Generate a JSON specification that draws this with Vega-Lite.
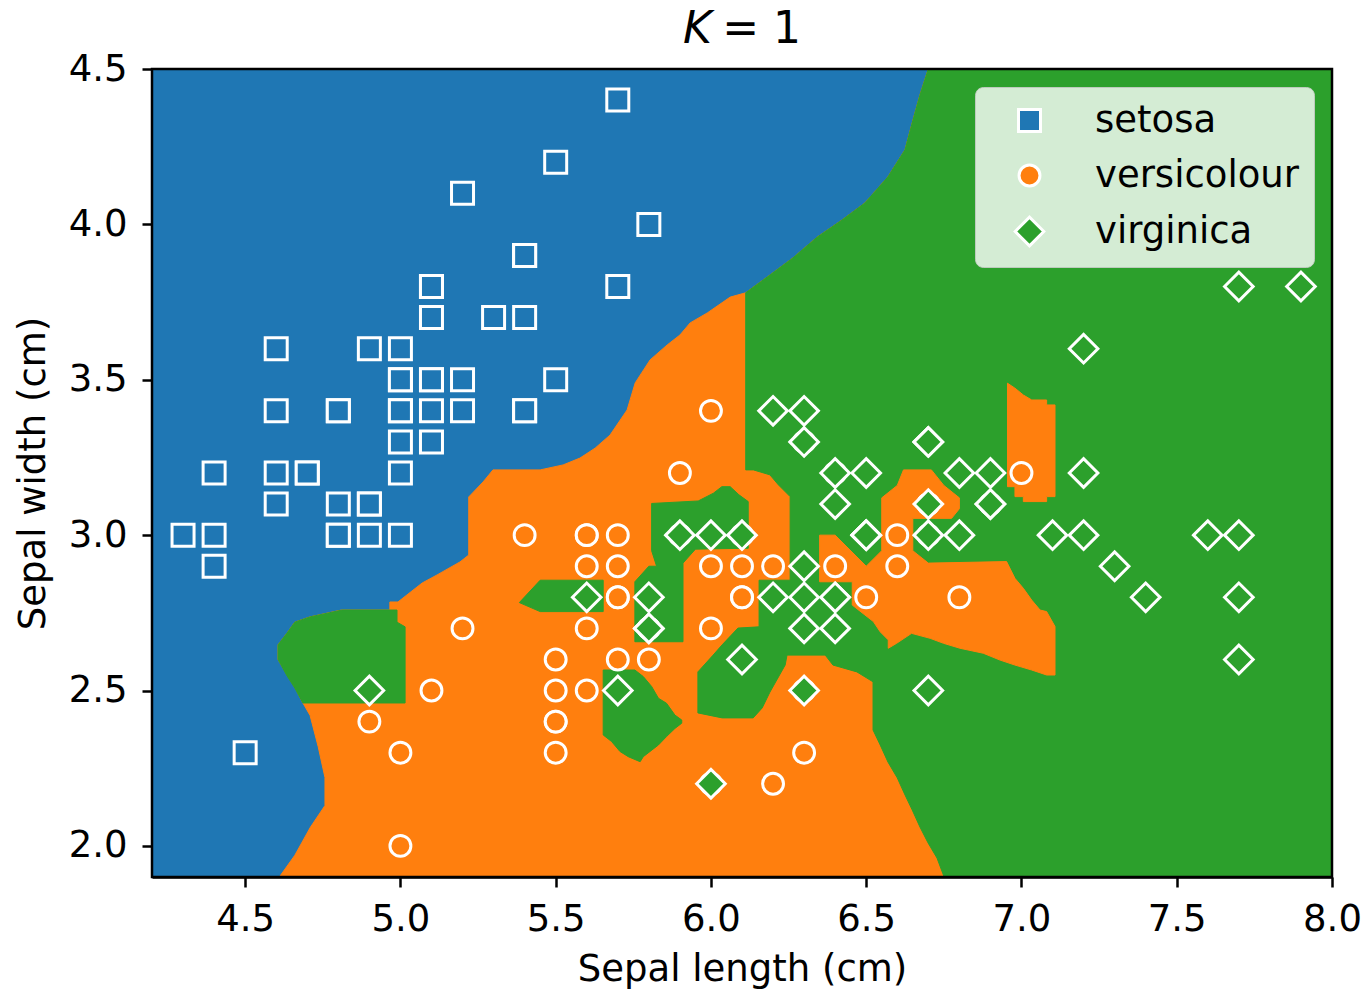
{
  "$schema": "https://vega.github.io/schema/vega-lite/v6.json",
  "width": 1180,
  "height": 808,
  "autosize": {"type": "none"},
  "padding": {"left": 152, "top": 69, "right": 36, "bottom": 114},
  "background": "white",
  "config": {
    "view": {"stroke": null},
    "axis": {"labelFontSize": 37, "titleFontSize": 37, "labelFont": "DejaVu Sans", "titleFont": "DejaVu Sans", "titleFontWeight": "normal", "labelColor": "black", "titleColor": "black", "domainColor": "black", "domainWidth": 2.5, "tickColor": "black", "tickWidth": 2.5, "tickSize": 10, "grid": false, "zindex": 1, "labelFlush": false, "labelOverlap": false}
  },
  "datasets": {
    "regions": [
      {"p":"bg","z":1,"i":0,"x":4.2,"y":1.9},{"p":"bg","z":1,"i":1,"x":8.0,"y":1.9},{"p":"bg","z":1,"i":2,"x":8.0,"y":4.5},{"p":"bg","z":1,"i":3,"x":4.2,"y":4.5},

      {"p":"nb","z":2,"i":0,"x":4.61,"y":1.9},{"p":"nb","z":2,"i":1,"x":4.66,"y":1.97},{"p":"nb","z":2,"i":2,"x":4.71,"y":2.06},{"p":"nb","z":2,"i":3,"x":4.757,"y":2.13},{"p":"nb","z":2,"i":4,"x":4.757,"y":2.22},{"p":"nb","z":2,"i":5,"x":4.735,"y":2.32},{"p":"nb","z":2,"i":6,"x":4.709,"y":2.42},{"p":"nb","z":2,"i":7,"x":4.686,"y":2.46},{"p":"nb","z":2,"i":8,"x":4.66,"y":2.51},{"p":"nb","z":2,"i":9,"x":4.635,"y":2.55},{"p":"nb","z":2,"i":10,"x":4.606,"y":2.6},{"p":"nb","z":2,"i":11,"x":4.606,"y":2.647},{"p":"nb","z":2,"i":12,"x":4.635,"y":2.685},{"p":"nb","z":2,"i":13,"x":4.66,"y":2.72},{"p":"nb","z":2,"i":14,"x":4.709,"y":2.737},{"p":"nb","z":2,"i":15,"x":4.81,"y":2.759},{"p":"nb","z":2,"i":16,"x":4.966,"y":2.759},{"p":"nb","z":2,"i":17,"x":4.966,"y":2.785},{"p":"nb","z":2,"i":18,"x":4.992,"y":2.785},{"p":"nb","z":2,"i":19,"x":5.07,"y":2.846},{"p":"nb","z":2,"i":20,"x":5.118,"y":2.872},{"p":"nb","z":2,"i":21,"x":5.192,"y":2.914},{"p":"nb","z":2,"i":22,"x":5.22,"y":2.936},{"p":"nb","z":2,"i":23,"x":5.22,"y":3.123},{"p":"nb","z":2,"i":24,"x":5.266,"y":3.171},{"p":"nb","z":2,"i":25,"x":5.298,"y":3.21},{"p":"nb","z":2,"i":26,"x":5.45,"y":3.21},{"p":"nb","z":2,"i":27,"x":5.524,"y":3.226},{"p":"nb","z":2,"i":28,"x":5.578,"y":3.248},{"p":"nb","z":2,"i":29,"x":5.627,"y":3.28},{"p":"nb","z":2,"i":30,"x":5.675,"y":3.322},{"p":"nb","z":2,"i":31,"x":5.73,"y":3.403},{"p":"nb","z":2,"i":32,"x":5.756,"y":3.49},{"p":"nb","z":2,"i":33,"x":5.804,"y":3.564},{"p":"nb","z":2,"i":34,"x":5.859,"y":3.612},{"p":"nb","z":2,"i":35,"x":5.9,"y":3.644},{"p":"nb","z":2,"i":36,"x":5.933,"y":3.683},{"p":"nb","z":2,"i":37,"x":5.988,"y":3.715},{"p":"nb","z":2,"i":38,"x":6.062,"y":3.766},{"p":"nb","z":2,"i":39,"x":6.112,"y":3.78},{"p":"nb","z":2,"i":40,"x":6.19,"y":3.837},{"p":"nb","z":2,"i":41,"x":6.264,"y":3.892},{"p":"nb","z":2,"i":42,"x":6.342,"y":3.959},{"p":"nb","z":2,"i":43,"x":6.422,"y":4.014},{"p":"nb","z":2,"i":44,"x":6.496,"y":4.069},{"p":"nb","z":2,"i":45,"x":6.57,"y":4.153},{"p":"nb","z":2,"i":46,"x":6.625,"y":4.24},{"p":"nb","z":2,"i":47,"x":6.648,"y":4.326},{"p":"nb","z":2,"i":48,"x":6.673,"y":4.416},{"p":"nb","z":2,"i":49,"x":6.7,"y":4.5},{"p":"nb","z":2,"i":50,"x":8.0,"y":4.5},{"p":"nb","z":2,"i":51,"x":8.0,"y":1.9},

      {"p":"g1","z":3,"i":0,"x":6.112,"y":3.78},{"p":"g1","z":3,"i":1,"x":6.19,"y":3.837},{"p":"g1","z":3,"i":2,"x":6.264,"y":3.892},{"p":"g1","z":3,"i":3,"x":6.342,"y":3.959},{"p":"g1","z":3,"i":4,"x":6.422,"y":4.014},{"p":"g1","z":3,"i":5,"x":6.496,"y":4.069},{"p":"g1","z":3,"i":6,"x":6.57,"y":4.153},{"p":"g1","z":3,"i":7,"x":6.625,"y":4.24},{"p":"g1","z":3,"i":8,"x":6.648,"y":4.326},{"p":"g1","z":3,"i":9,"x":6.673,"y":4.416},{"p":"g1","z":3,"i":10,"x":6.7,"y":4.5},{"p":"g1","z":3,"i":11,"x":8.0,"y":4.5},{"p":"g1","z":3,"i":12,"x":8.0,"y":1.9},{"p":"g1","z":3,"i":13,"x":6.751,"y":1.9},{"p":"g1","z":3,"i":14,"x":6.728,"y":1.961},{"p":"g1","z":3,"i":15,"x":6.699,"y":2.01},{"p":"g1","z":3,"i":16,"x":6.673,"y":2.061},{"p":"g1","z":3,"i":17,"x":6.648,"y":2.116},{"p":"g1","z":3,"i":18,"x":6.625,"y":2.164},{"p":"g1","z":3,"i":19,"x":6.6,"y":2.219},{"p":"g1","z":3,"i":20,"x":6.57,"y":2.27},{"p":"g1","z":3,"i":21,"x":6.545,"y":2.325},{"p":"g1","z":3,"i":22,"x":6.522,"y":2.373},{"p":"g1","z":3,"i":23,"x":6.522,"y":2.528},{"p":"g1","z":3,"i":24,"x":6.47,"y":2.56},{"p":"g1","z":3,"i":25,"x":6.393,"y":2.582},{"p":"g1","z":3,"i":26,"x":6.368,"y":2.614},{"p":"g1","z":3,"i":27,"x":6.245,"y":2.614},{"p":"g1","z":3,"i":28,"x":6.239,"y":2.582},{"p":"g1","z":3,"i":29,"x":6.19,"y":2.495},{"p":"g1","z":3,"i":30,"x":6.165,"y":2.444},{"p":"g1","z":3,"i":31,"x":6.136,"y":2.412},{"p":"g1","z":3,"i":32,"x":6.036,"y":2.412},{"p":"g1","z":3,"i":33,"x":5.958,"y":2.428},{"p":"g1","z":3,"i":34,"x":5.958,"y":2.56},{"p":"g1","z":3,"i":35,"x":6.007,"y":2.614},{"p":"g1","z":3,"i":36,"x":6.036,"y":2.647},{"p":"g1","z":3,"i":37,"x":6.087,"y":2.701},{"p":"g1","z":3,"i":38,"x":6.155,"y":2.705},{"p":"g1","z":3,"i":39,"x":6.155,"y":2.855},{"p":"g1","z":3,"i":40,"x":6.255,"y":2.855},{"p":"g1","z":3,"i":41,"x":6.255,"y":3.124},{"p":"g1","z":3,"i":42,"x":6.217,"y":3.162},{"p":"g1","z":3,"i":43,"x":6.19,"y":3.194},{"p":"g1","z":3,"i":44,"x":6.137,"y":3.21},{"p":"g1","z":3,"i":45,"x":6.112,"y":3.21},

      {"p":"E","z":4,"i":0,"x":6.35,"y":3.0},{"p":"E","z":4,"i":1,"x":6.4,"y":3.0},{"p":"E","z":4,"i":2,"x":6.5,"y":2.9},{"p":"E","z":4,"i":3,"x":6.55,"y":2.95},{"p":"E","z":4,"i":4,"x":6.55,"y":3.12},{"p":"E","z":4,"i":5,"x":6.6,"y":3.16},{"p":"E","z":4,"i":6,"x":6.62,"y":3.21},{"p":"E","z":4,"i":7,"x":6.71,"y":3.21},{"p":"E","z":4,"i":8,"x":6.75,"y":3.16},{"p":"E","z":4,"i":9,"x":6.8,"y":3.12},{"p":"E","z":4,"i":10,"x":6.8,"y":3.085},{"p":"E","z":4,"i":11,"x":6.775,"y":3.054},{"p":"E","z":4,"i":12,"x":6.65,"y":3.054},{"p":"E","z":4,"i":13,"x":6.65,"y":2.95},{"p":"E","z":4,"i":14,"x":6.7,"y":2.91},{"p":"E","z":4,"i":15,"x":6.952,"y":2.915},{"p":"E","z":4,"i":16,"x":6.979,"y":2.861},{"p":"E","z":4,"i":17,"x":7.006,"y":2.829},{"p":"E","z":4,"i":18,"x":7.033,"y":2.791},{"p":"E","z":4,"i":19,"x":7.06,"y":2.759},{"p":"E","z":4,"i":20,"x":7.081,"y":2.754},{"p":"E","z":4,"i":21,"x":7.108,"y":2.706},{"p":"E","z":4,"i":22,"x":7.108,"y":2.55},{"p":"E","z":4,"i":23,"x":7.081,"y":2.55},{"p":"E","z":4,"i":24,"x":7.033,"y":2.566},{"p":"E","z":4,"i":25,"x":6.979,"y":2.582},{"p":"E","z":4,"i":26,"x":6.931,"y":2.598},{"p":"E","z":4,"i":27,"x":6.877,"y":2.62},{"p":"E","z":4,"i":28,"x":6.802,"y":2.636},{"p":"E","z":4,"i":29,"x":6.749,"y":2.652},{"p":"E","z":4,"i":30,"x":6.706,"y":2.668},{"p":"E","z":4,"i":31,"x":6.646,"y":2.684},{"p":"E","z":4,"i":32,"x":6.598,"y":2.652},{"p":"E","z":4,"i":33,"x":6.571,"y":2.636},{"p":"E","z":4,"i":34,"x":6.571,"y":2.663},{"p":"E","z":4,"i":35,"x":6.545,"y":2.689},{"p":"E","z":4,"i":36,"x":6.523,"y":2.722},{"p":"E","z":4,"i":37,"x":6.496,"y":2.743},{"p":"E","z":4,"i":38,"x":6.455,"y":2.775},{"p":"E","z":4,"i":39,"x":6.455,"y":2.85},{"p":"E","z":4,"i":40,"x":6.35,"y":2.85},

      {"p":"F","z":4,"i":0,"x":6.955,"y":3.489},{"p":"F","z":4,"i":1,"x":6.979,"y":3.473},{"p":"F","z":4,"i":2,"x":7.006,"y":3.451},{"p":"F","z":4,"i":3,"x":7.033,"y":3.435},{"p":"F","z":4,"i":4,"x":7.081,"y":3.435},{"p":"F","z":4,"i":5,"x":7.081,"y":3.419},{"p":"F","z":4,"i":6,"x":7.108,"y":3.419},{"p":"F","z":4,"i":7,"x":7.108,"y":3.124},{"p":"F","z":4,"i":8,"x":7.081,"y":3.124},{"p":"F","z":4,"i":9,"x":7.081,"y":3.108},{"p":"F","z":4,"i":10,"x":7.006,"y":3.108},{"p":"F","z":4,"i":11,"x":7.006,"y":3.124},{"p":"F","z":4,"i":12,"x":6.979,"y":3.124},{"p":"F","z":4,"i":13,"x":6.979,"y":3.156},{"p":"F","z":4,"i":14,"x":6.955,"y":3.156},

      {"p":"I1","z":5,"i":0,"x":4.686,"y":2.46},{"p":"I1","z":5,"i":1,"x":4.66,"y":2.508},{"p":"I1","z":5,"i":2,"x":4.635,"y":2.547},{"p":"I1","z":5,"i":3,"x":4.606,"y":2.6},{"p":"I1","z":5,"i":4,"x":4.606,"y":2.647},{"p":"I1","z":5,"i":5,"x":4.635,"y":2.685},{"p":"I1","z":5,"i":6,"x":4.66,"y":2.72},{"p":"I1","z":5,"i":7,"x":4.709,"y":2.737},{"p":"I1","z":5,"i":8,"x":4.812,"y":2.759},{"p":"I1","z":5,"i":9,"x":4.989,"y":2.759},{"p":"I1","z":5,"i":10,"x":4.989,"y":2.72},{"p":"I1","z":5,"i":11,"x":5.015,"y":2.705},{"p":"I1","z":5,"i":12,"x":5.015,"y":2.46},

      {"p":"I2","z":5,"i":0,"x":5.653,"y":2.566},{"p":"I2","z":5,"i":1,"x":5.755,"y":2.566},{"p":"I2","z":5,"i":2,"x":5.782,"y":2.545},{"p":"I2","z":5,"i":3,"x":5.809,"y":2.513},{"p":"I2","z":5,"i":4,"x":5.831,"y":2.475},{"p":"I2","z":5,"i":5,"x":5.857,"y":2.459},{"p":"I2","z":5,"i":6,"x":5.884,"y":2.421},{"p":"I2","z":5,"i":7,"x":5.906,"y":2.405},{"p":"I2","z":5,"i":8,"x":5.906,"y":2.395},{"p":"I2","z":5,"i":9,"x":5.884,"y":2.378},{"p":"I2","z":5,"i":10,"x":5.857,"y":2.352},{"p":"I2","z":5,"i":11,"x":5.831,"y":2.325},{"p":"I2","z":5,"i":12,"x":5.782,"y":2.287},{"p":"I2","z":5,"i":13,"x":5.772,"y":2.271},{"p":"I2","z":5,"i":14,"x":5.734,"y":2.287},{"p":"I2","z":5,"i":15,"x":5.707,"y":2.304},{"p":"I2","z":5,"i":16,"x":5.68,"y":2.336},{"p":"I2","z":5,"i":17,"x":5.653,"y":2.357},

      {"p":"I3","z":5,"i":0,"x":5.809,"y":3.102},{"p":"I3","z":5,"i":1,"x":5.959,"y":3.11},{"p":"I3","z":5,"i":2,"x":6.008,"y":3.135},{"p":"I3","z":5,"i":3,"x":6.035,"y":3.156},{"p":"I3","z":5,"i":4,"x":6.062,"y":3.156},{"p":"I3","z":5,"i":5,"x":6.09,"y":3.13},{"p":"I3","z":5,"i":6,"x":6.12,"y":3.108},{"p":"I3","z":5,"i":7,"x":6.12,"y":2.958},{"p":"I3","z":5,"i":8,"x":5.95,"y":2.955},{"p":"I3","z":5,"i":9,"x":5.91,"y":2.91},{"p":"I3","z":5,"i":10,"x":5.91,"y":2.657},{"p":"I3","z":5,"i":11,"x":5.755,"y":2.657},{"p":"I3","z":5,"i":12,"x":5.755,"y":2.85},{"p":"I3","z":5,"i":13,"x":5.8,"y":2.9},{"p":"I3","z":5,"i":14,"x":5.825,"y":2.9},{"p":"I3","z":5,"i":15,"x":5.809,"y":2.95},

      {"p":"I4","z":5,"i":0,"x":5.383,"y":2.783},{"p":"I4","z":5,"i":1,"x":5.45,"y":2.855},{"p":"I4","z":5,"i":2,"x":5.653,"y":2.855},{"p":"I4","z":5,"i":3,"x":5.653,"y":2.754},{"p":"I4","z":5,"i":4,"x":5.45,"y":2.754}
    ],
    "iris": [
      {"x":5.1,"y":3.5,"s":"setosa"},{"x":4.9,"y":3.0,"s":"setosa"},{"x":4.7,"y":3.2,"s":"setosa"},{"x":4.6,"y":3.1,"s":"setosa"},{"x":5.0,"y":3.6,"s":"setosa"},{"x":5.4,"y":3.9,"s":"setosa"},{"x":4.6,"y":3.4,"s":"setosa"},{"x":5.0,"y":3.4,"s":"setosa"},{"x":4.4,"y":2.9,"s":"setosa"},{"x":4.9,"y":3.1,"s":"setosa"},
      {"x":5.4,"y":3.7,"s":"setosa"},{"x":4.8,"y":3.4,"s":"setosa"},{"x":4.8,"y":3.0,"s":"setosa"},{"x":4.3,"y":3.0,"s":"setosa"},{"x":5.8,"y":4.0,"s":"setosa"},{"x":5.7,"y":4.4,"s":"setosa"},{"x":5.4,"y":3.9,"s":"setosa"},{"x":5.1,"y":3.5,"s":"setosa"},{"x":5.7,"y":3.8,"s":"setosa"},{"x":5.1,"y":3.8,"s":"setosa"},
      {"x":5.4,"y":3.4,"s":"setosa"},{"x":5.1,"y":3.7,"s":"setosa"},{"x":4.6,"y":3.6,"s":"setosa"},{"x":5.1,"y":3.3,"s":"setosa"},{"x":4.8,"y":3.4,"s":"setosa"},{"x":5.0,"y":3.0,"s":"setosa"},{"x":5.0,"y":3.4,"s":"setosa"},{"x":5.2,"y":3.5,"s":"setosa"},{"x":5.2,"y":3.4,"s":"setosa"},{"x":4.7,"y":3.2,"s":"setosa"},
      {"x":4.8,"y":3.1,"s":"setosa"},{"x":5.4,"y":3.4,"s":"setosa"},{"x":5.2,"y":4.1,"s":"setosa"},{"x":5.5,"y":4.2,"s":"setosa"},{"x":4.9,"y":3.1,"s":"setosa"},{"x":5.0,"y":3.2,"s":"setosa"},{"x":5.5,"y":3.5,"s":"setosa"},{"x":4.9,"y":3.6,"s":"setosa"},{"x":4.4,"y":3.0,"s":"setosa"},{"x":5.1,"y":3.4,"s":"setosa"},
      {"x":5.0,"y":3.5,"s":"setosa"},{"x":4.5,"y":2.3,"s":"setosa"},{"x":4.4,"y":3.2,"s":"setosa"},{"x":5.0,"y":3.5,"s":"setosa"},{"x":5.1,"y":3.8,"s":"setosa"},{"x":4.8,"y":3.0,"s":"setosa"},{"x":5.1,"y":3.8,"s":"setosa"},{"x":4.6,"y":3.2,"s":"setosa"},{"x":5.3,"y":3.7,"s":"setosa"},{"x":5.0,"y":3.3,"s":"setosa"},
      {"x":7.0,"y":3.2,"s":"versicolour"},{"x":6.4,"y":3.2,"s":"versicolour"},{"x":6.9,"y":3.1,"s":"versicolour"},{"x":5.5,"y":2.3,"s":"versicolour"},{"x":6.5,"y":2.8,"s":"versicolour"},{"x":5.7,"y":2.8,"s":"versicolour"},{"x":6.3,"y":3.3,"s":"versicolour"},{"x":4.9,"y":2.4,"s":"versicolour"},{"x":6.6,"y":2.9,"s":"versicolour"},{"x":5.2,"y":2.7,"s":"versicolour"},
      {"x":5.0,"y":2.0,"s":"versicolour"},{"x":5.9,"y":3.0,"s":"versicolour"},{"x":6.0,"y":2.2,"s":"versicolour"},{"x":6.1,"y":2.9,"s":"versicolour"},{"x":5.6,"y":2.9,"s":"versicolour"},{"x":6.7,"y":3.1,"s":"versicolour"},{"x":5.6,"y":3.0,"s":"versicolour"},{"x":5.8,"y":2.7,"s":"versicolour"},{"x":6.2,"y":2.2,"s":"versicolour"},{"x":5.6,"y":2.5,"s":"versicolour"},
      {"x":5.9,"y":3.2,"s":"versicolour"},{"x":6.1,"y":2.8,"s":"versicolour"},{"x":6.3,"y":2.5,"s":"versicolour"},{"x":6.1,"y":2.8,"s":"versicolour"},{"x":6.4,"y":2.9,"s":"versicolour"},{"x":6.6,"y":3.0,"s":"versicolour"},{"x":6.8,"y":2.8,"s":"versicolour"},{"x":6.7,"y":3.0,"s":"versicolour"},{"x":6.0,"y":2.9,"s":"versicolour"},{"x":5.7,"y":2.6,"s":"versicolour"},
      {"x":5.5,"y":2.4,"s":"versicolour"},{"x":5.5,"y":2.4,"s":"versicolour"},{"x":5.8,"y":2.7,"s":"versicolour"},{"x":6.0,"y":2.7,"s":"versicolour"},{"x":5.4,"y":3.0,"s":"versicolour"},{"x":6.0,"y":3.4,"s":"versicolour"},{"x":6.7,"y":3.1,"s":"versicolour"},{"x":6.3,"y":2.3,"s":"versicolour"},{"x":5.6,"y":3.0,"s":"versicolour"},{"x":5.5,"y":2.5,"s":"versicolour"},
      {"x":5.5,"y":2.6,"s":"versicolour"},{"x":6.1,"y":3.0,"s":"versicolour"},{"x":5.8,"y":2.6,"s":"versicolour"},{"x":5.0,"y":2.3,"s":"versicolour"},{"x":5.6,"y":2.7,"s":"versicolour"},{"x":5.7,"y":3.0,"s":"versicolour"},{"x":5.7,"y":2.9,"s":"versicolour"},{"x":6.2,"y":2.9,"s":"versicolour"},{"x":5.1,"y":2.5,"s":"versicolour"},{"x":5.7,"y":2.8,"s":"versicolour"},
      {"x":6.3,"y":3.3,"s":"virginica"},{"x":5.8,"y":2.7,"s":"virginica"},{"x":7.1,"y":3.0,"s":"virginica"},{"x":6.3,"y":2.9,"s":"virginica"},{"x":6.5,"y":3.0,"s":"virginica"},{"x":7.6,"y":3.0,"s":"virginica"},{"x":4.9,"y":2.5,"s":"virginica"},{"x":7.3,"y":2.9,"s":"virginica"},{"x":6.7,"y":2.5,"s":"virginica"},{"x":7.2,"y":3.6,"s":"virginica"},
      {"x":6.5,"y":3.2,"s":"virginica"},{"x":6.4,"y":2.7,"s":"virginica"},{"x":6.8,"y":3.0,"s":"virginica"},{"x":5.7,"y":2.5,"s":"virginica"},{"x":5.8,"y":2.8,"s":"virginica"},{"x":6.4,"y":3.2,"s":"virginica"},{"x":6.5,"y":3.0,"s":"virginica"},{"x":7.7,"y":3.8,"s":"virginica"},{"x":7.7,"y":2.6,"s":"virginica"},{"x":6.0,"y":2.2,"s":"virginica"},
      {"x":6.9,"y":3.2,"s":"virginica"},{"x":5.6,"y":2.8,"s":"virginica"},{"x":7.7,"y":2.8,"s":"virginica"},{"x":6.3,"y":2.7,"s":"virginica"},{"x":6.7,"y":3.3,"s":"virginica"},{"x":7.2,"y":3.2,"s":"virginica"},{"x":6.2,"y":2.8,"s":"virginica"},{"x":6.1,"y":3.0,"s":"virginica"},{"x":6.4,"y":2.8,"s":"virginica"},{"x":7.2,"y":3.0,"s":"virginica"},
      {"x":7.4,"y":2.8,"s":"virginica"},{"x":7.9,"y":3.8,"s":"virginica"},{"x":6.4,"y":2.8,"s":"virginica"},{"x":6.3,"y":2.8,"s":"virginica"},{"x":6.1,"y":2.6,"s":"virginica"},{"x":7.7,"y":3.0,"s":"virginica"},{"x":6.3,"y":3.4,"s":"virginica"},{"x":6.4,"y":3.1,"s":"virginica"},{"x":6.0,"y":3.0,"s":"virginica"},{"x":6.9,"y":3.1,"s":"virginica"},
      {"x":6.7,"y":3.1,"s":"virginica"},{"x":6.9,"y":3.1,"s":"virginica"},{"x":5.8,"y":2.7,"s":"virginica"},{"x":6.8,"y":3.2,"s":"virginica"},{"x":6.7,"y":3.3,"s":"virginica"},{"x":6.7,"y":3.0,"s":"virginica"},{"x":6.3,"y":2.5,"s":"virginica"},{"x":6.5,"y":3.0,"s":"virginica"},{"x":6.2,"y":3.4,"s":"virginica"},{"x":5.9,"y":3.0,"s":"virginica"}
    ],
    "frame": [{"x0": 4.2, "x1": 8.0, "y0": 1.9, "y1": 4.5}]
  },
  "layer": [
    {
      "data": {"name": "regions"},
      "transform": [{"filter": "datum.z == 1"}],
      "mark": {"type": "line", "fill": "#1f77b4", "stroke": "#1f77b4", "strokeWidth": 1, "interpolate": "linear-closed"},
      "encoding": {
        "x": {"field": "x", "type": "quantitative", "scale": {"domain": [4.2, 8.0], "nice": false, "zero": false}, "axis": {"values": [4.5, 5.0, 5.5, 6.0, 6.5, 7.0, 7.5, 8.0], "format": ".1f", "title": "Sepal length (cm)", "labelPadding": 14, "titlePadding": 14}},
        "y": {"field": "y", "type": "quantitative", "scale": {"domain": [1.9, 4.5], "nice": false, "zero": false}, "axis": {"values": [2.0, 2.5, 3.0, 3.5, 4.0, 4.5], "format": ".1f", "title": "Sepal width (cm)", "labelPadding": 15, "titlePadding": 16}},
        "detail": {"field": "p"},
        "order": {"field": "i", "type": "quantitative"}
      }
    },
    {
      "data": {"name": "regions"},
      "transform": [{"filter": "datum.z == 2"}],
      "mark": {"type": "line", "fill": "#ff7f0e", "stroke": "#ff7f0e", "strokeWidth": 1, "interpolate": "linear-closed"},
      "encoding": {
        "x": {"field": "x", "type": "quantitative", "scale": {"domain": [4.2, 8.0], "nice": false, "zero": false}, "axis": null},
        "y": {"field": "y", "type": "quantitative", "scale": {"domain": [1.9, 4.5], "nice": false, "zero": false}, "axis": null},
        "detail": {"field": "p"},
        "order": {"field": "i", "type": "quantitative"}
      }
    },
    {
      "data": {"name": "regions"},
      "transform": [{"filter": "datum.z == 3"}],
      "mark": {"type": "line", "fill": "#2ca02c", "stroke": "#2ca02c", "strokeWidth": 1, "interpolate": "linear-closed"},
      "encoding": {
        "x": {"field": "x", "type": "quantitative", "scale": {"domain": [4.2, 8.0], "nice": false, "zero": false}, "axis": null},
        "y": {"field": "y", "type": "quantitative", "scale": {"domain": [1.9, 4.5], "nice": false, "zero": false}, "axis": null},
        "detail": {"field": "p"},
        "order": {"field": "i", "type": "quantitative"}
      }
    },
    {
      "data": {"name": "regions"},
      "transform": [{"filter": "datum.z == 4"}],
      "mark": {"type": "line", "fill": "#ff7f0e", "stroke": "#ff7f0e", "strokeWidth": 1, "interpolate": "linear-closed"},
      "encoding": {
        "x": {"field": "x", "type": "quantitative", "scale": {"domain": [4.2, 8.0], "nice": false, "zero": false}, "axis": null},
        "y": {"field": "y", "type": "quantitative", "scale": {"domain": [1.9, 4.5], "nice": false, "zero": false}, "axis": null},
        "detail": {"field": "p"},
        "order": {"field": "i", "type": "quantitative"}
      }
    },
    {
      "data": {"name": "regions"},
      "transform": [{"filter": "datum.z == 5"}],
      "mark": {"type": "line", "fill": "#2ca02c", "stroke": "#2ca02c", "strokeWidth": 1, "interpolate": "linear-closed"},
      "encoding": {
        "x": {"field": "x", "type": "quantitative", "scale": {"domain": [4.2, 8.0], "nice": false, "zero": false}, "axis": null},
        "y": {"field": "y", "type": "quantitative", "scale": {"domain": [1.9, 4.5], "nice": false, "zero": false}, "axis": null},
        "detail": {"field": "p"},
        "order": {"field": "i", "type": "quantitative"}
      }
    },
    {
      "data": {"name": "iris"},
      "mark": {"type": "point", "filled": true, "stroke": "white", "strokeWidth": 3, "opacity": 1, "size": 484},
      "encoding": {
        "x": {"field": "x", "type": "quantitative", "scale": {"domain": [4.2, 8.0], "nice": false, "zero": false}, "axis": null},
        "y": {"field": "y", "type": "quantitative", "scale": {"domain": [1.9, 4.5], "nice": false, "zero": false}, "axis": null},
        "color": {"field": "s", "type": "nominal", "scale": {"domain": ["setosa", "versicolour", "virginica"], "range": ["#1f77b4", "#ff7f0e", "#2ca02c"]},
          "legend": {"title": null, "orient": "top-right", "offset": 18, "labelFontSize": 37, "labelFont": "DejaVu Sans", "labelColor": "black", "labelLimit": 0, "fillColor": "rgba(255,255,255,0.8)", "strokeColor": "rgba(204,204,204,0.8)", "cornerRadius": 8, "padding": 15, "rowPadding": 17, "labelOffset": 47, "symbolOffset": 21, "symbolSize": 484, "symbolStrokeColor": "white", "symbolStrokeWidth": 3, "zindex": 2}},
        "shape": {"field": "s", "type": "nominal", "scale": {"domain": ["setosa", "versicolour", "virginica"], "range": ["square", "M0.95,0A0.95,0.95,0,1,1,-0.95,0A0.95,0.95,0,1,1,0.95,0Z", "M-1.3,0L0,-1.3L1.3,0L0,1.3Z"]}}
      }
    },
    {
      "data": {"name": "frame"},
      "mark": {"type": "rect", "fill": null, "stroke": "black", "strokeWidth": 2.5},
      "encoding": {
        "x": {"field": "x0", "type": "quantitative", "scale": {"domain": [4.2, 8.0], "nice": false, "zero": false}, "axis": null},
        "x2": {"field": "x1"},
        "y": {"field": "y0", "type": "quantitative", "scale": {"domain": [1.9, 4.5], "nice": false, "zero": false}, "axis": null},
        "y2": {"field": "y1"}
      }
    },
    {
      "data": {"values": [{}]},
      "mark": {"type": "text", "text": "K", "font": "DejaVu Sans", "fontStyle": "italic", "fontSize": 44, "align": "left", "baseline": "alphabetic", "color": "black"},
      "encoding": {
        "x": {"datum": 5.91, "type": "quantitative", "scale": {"domain": [4.2, 8.0], "nice": false, "zero": false}, "axis": null},
        "y": {"datum": 4.584, "type": "quantitative", "scale": {"domain": [1.9, 4.5], "nice": false, "zero": false}, "axis": null}
      }
    },
    {
      "data": {"values": [{}]},
      "mark": {"type": "text", "text": "= 1", "font": "DejaVu Sans", "fontSize": 44, "align": "left", "baseline": "alphabetic", "color": "black"},
      "encoding": {
        "x": {"datum": 6.036, "type": "quantitative", "scale": {"domain": [4.2, 8.0], "nice": false, "zero": false}, "axis": null},
        "y": {"datum": 4.584, "type": "quantitative", "scale": {"domain": [1.9, 4.5], "nice": false, "zero": false}, "axis": null}
      }
    }
  ],
  "resolve": {"axis": {"x": "independent", "y": "independent"}}
}
